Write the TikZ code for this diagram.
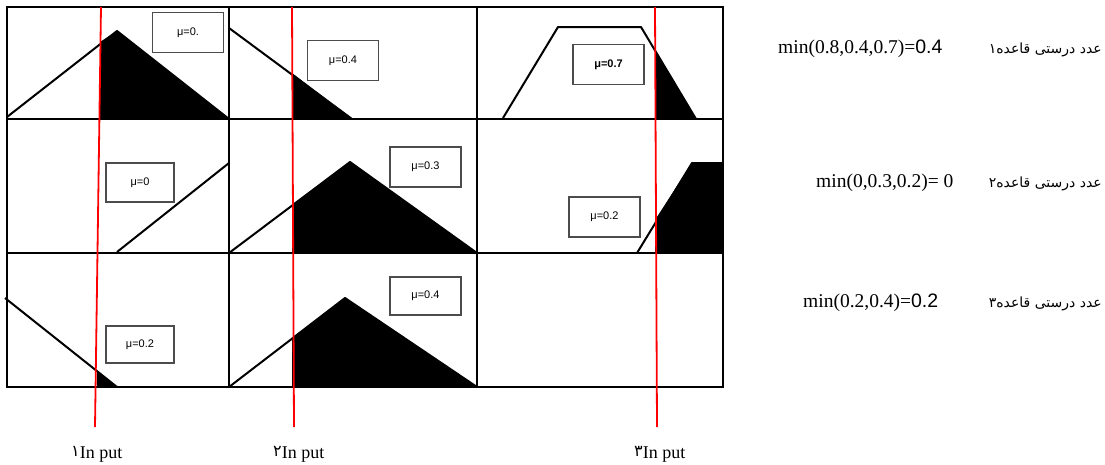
\documentclass[tikz,border=0pt]{standalone}
\usepackage{fontspec}
\setmainfont{Liberation Serif}
\newfontfamily\arabicfont[Script=Arabic]{DejaVu Sans}
\newfontfamily\boxfont{Liberation Sans}
\TeXXeTstate=1
\begin{document}
\begin{tikzpicture}[x=1pt,y=-1pt,
  grid/.style={line width=2.2pt},
  mf/.style={line width=2pt, line join=round},
  cut/.style={fill=black},
  inp/.style={red, line width=1.8pt},
  mubox/.style={draw=black!70, line width=1.1pt, minimum width=71pt, minimum height=40pt, font=\boxfont\fontsize{11}{13}\selectfont, inner sep=0pt},
  rule/.style={font=\fontsize{19.5}{22}\selectfont, inner sep=0pt, anchor=base west},
  ar/.style={font=\arabicfont\fontsize{14}{16}\selectfont, inner sep=0pt, anchor=base east},
  lab/.style={font=\fontsize{18}{20}\selectfont, inner sep=0pt, anchor=base west}]
\useasboundingbox (0,0) rectangle (1105,464);
% cut (filled) regions
\fill[cut] (100,42) -- (117,31) -- (229,119) -- (100,119) -- cycle;
\fill[cut] (292,73) -- (352,119) -- (292,119) -- cycle;
\fill[cut] (655,50) -- (696,119) -- (655,119) -- cycle;
\fill[cut] (292,206) -- (350,162) -- (477,253) -- (292,253) -- cycle;
\fill[cut] (655,220) -- (692,163) -- (723,163) -- (723,253) -- (655,253) -- cycle;
\fill[cut] (97,372) -- (117,387) -- (97,387) -- cycle;
\fill[cut] (292,338) -- (345,298) -- (477,387) -- (292,387) -- cycle;
% membership functions
\draw[mf] (7,117) -- (117,31) -- (229,119);
\draw[mf] (229,28) -- (352,119);
\draw[mf] (503,118) -- (558,27) -- (641,27) -- (696,119);
\draw[mf] (117,252) -- (229,163);
\draw[mf] (229,253) -- (350,162) -- (477,253);
\draw[mf] (637,253) -- (692,163) -- (723,163);
\draw[mf] (5,298) -- (117,387);
\draw[mf] (229,387) -- (345,298) -- (477,387);
% grid
\draw[grid] (7,7) rectangle (723,387);
\draw[grid] (7,119) -- (723,119);
\draw[grid] (7,253) -- (723,253);
\draw[grid] (229,7) -- (229,387);
\draw[grid] (477,7) -- (477,387);
% membership boxes
\node[mubox] (b11) at (188,32.5) {μ=0.};
\node[mubox] (b12) at (343,60.5) {μ=0.4};
\node[mubox, font=\boxfont\bfseries\fontsize{11}{13}\selectfont] (b13) at (608.5,64.5) {μ=0.7};
\node[mubox, minimum width=68pt, minimum height=39pt] (b21) at (140,182.5) {μ=0};
\node[mubox] (b22) at (425.5,167) {μ=0.3};
\node[mubox] (b23) at (604.5,217) {μ=0.2};
\node[mubox, minimum width=68pt, minimum height=37pt] (b31) at (140,344.5) {μ=0.2};
\node[mubox, minimum height=38pt] (b32) at (425.5,296) {μ=0.4};
% input lines
\coordinate (i1t) at (101,7);  \coordinate (i1b) at (95,427);
\coordinate (i2t) at (292,7);  \coordinate (i2b) at (294,427);
\coordinate (i3t) at (655,7);  \coordinate (i3b) at (657,427);
\draw[inp] (i1t) -- (i1b);
\draw[inp] (i2t) -- (i2b);
\draw[inp] (i3t) -- (i3b);
% input labels
\node[lab] (l1) at (71,458) {\raisebox{2pt}{\arabicfont\fontsize{16}{18}\selectfont ۱}In put};
\node[lab] (l2) at (273,458) {\raisebox{2pt}{\arabicfont\fontsize{16}{18}\selectfont ۲}In put};
\node[lab] (l3) at (634,458) {\raisebox{2pt}{\arabicfont\fontsize{16}{18}\selectfont ۳}In put};
% rule strengths
\node[rule] (r1) at (778,53) {min(0.8,0.4,0.7)={\boxfont 0.4}};
\node[ar] (a1) at (1102,53) {\beginR عدد درستی قاعده۱\endR};
\node[rule] (r2) at (816,187) {min(0,0.3,0.2)= 0};
\node[ar] (a2) at (1102,187) {\beginR عدد درستی قاعده۲\endR};
\node[rule] (r3) at (803,307) {min(0.2,0.4)={\boxfont 0.2}};
\node[ar] (a3) at (1102,307) {\beginR عدد درستی قاعده۳\endR};
\end{tikzpicture}
\end{document}
